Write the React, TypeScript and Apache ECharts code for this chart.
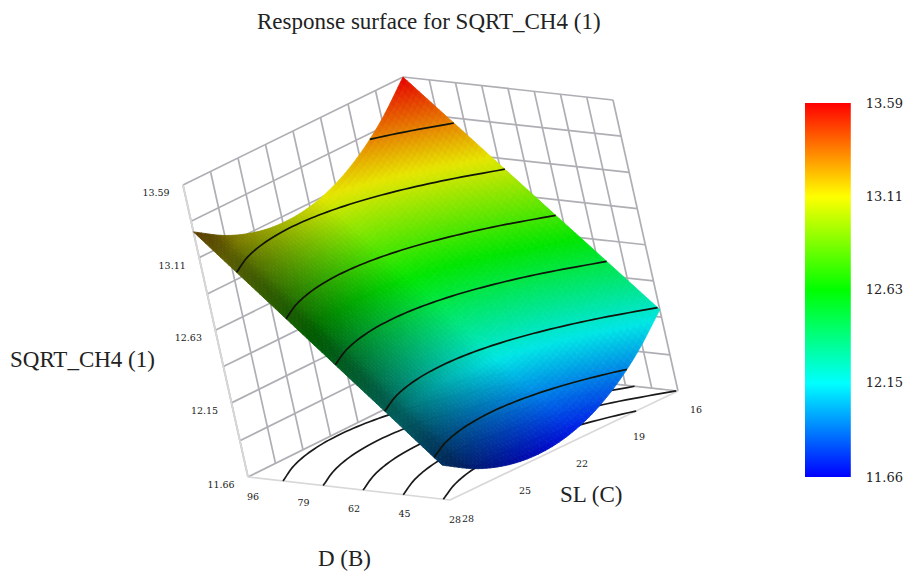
import React, { useEffect, useRef } from "react";
import * as echarts from "echarts";

const dValues = [96, 87.5, 79, 70.5, 62, 53.5, 45, 36.5, 28];
const slValues = [28, 26.5, 25, 23.5, 22, 20.5, 19, 17.5, 16];
const zGrid = [11.66, 11.90, 12.15, 12.39, 12.63, 12.87, 13.11, 13.35, 13.59];
const zTicks = [13.59, 13.11, 12.63, 12.15, 11.66];
const dTicks = [96, 79, 62, 45, 28];
const slTicks = [28, 25, 22, 19, 16];
const contourLevels = [11.936, 12.212, 12.488, 12.763, 13.039, 13.315];
// rows: D from 96 to 28, columns: SL from 28 to 16
const surfaceRows = [
  [13.28, 13.167, 13.098, 13.072, 13.089, 13.149, 13.253, 13.4, 13.59],
  [13.106, 12.993, 12.924, 12.898, 12.915, 12.975, 13.079, 13.226, 13.416],
  [12.933, 12.82, 12.751, 12.725, 12.742, 12.802, 12.906, 13.053, 13.243],
  [12.759, 12.646, 12.577, 12.551, 12.568, 12.628, 12.732, 12.879, 13.069],
  [12.585, 12.472, 12.403, 12.377, 12.394, 12.454, 12.558, 12.705, 12.895],
  [12.411, 12.298, 12.229, 12.203, 12.22, 12.28, 12.384, 12.531, 12.721],
  [12.238, 12.125, 12.056, 12.03, 12.047, 12.107, 12.211, 12.358, 12.548],
  [12.064, 11.951, 11.882, 11.856, 11.873, 11.933, 12.037, 12.184, 12.374],
  [11.89, 11.777, 11.708, 11.682, 11.699, 11.759, 11.863, 12.01, 12.2],
];
const rampStops: [number, number[]][] = [
  [0, [0, 0, 255]],
  [0.25, [0, 255, 255]],
  [0.5, [0, 255, 0]],
  [0.75, [255, 255, 0]],
  [1, [255, 0, 0]],
];

const Z_MIN = 11.66;
const Z_MAX = 13.59;
const SERIF = "'DejaVu Serif', serif";
const TITLE_FONT = "'Liberation Serif', serif";

// Screen frame of the view box: [u (D), s (SL)] corners on floor and ceiling
const floorCorners = [[[248, 477], [468, 368]], [[450, 500], [678, 391]]];
const topCorners = [[[183, 185], [403, 77]], [[385, 208], [613, 100]]];

function project(d: number, sl: number, z: number): number[] {
  const u = (96 - d) / 68;
  const s = (28 - sl) / 12;
  const t = (z - Z_MIN) / (Z_MAX - Z_MIN);
  const at = (c: number[][][], k: number) =>
    (1 - u) * ((1 - s) * c[0][0][k] + s * c[0][1][k]) + u * ((1 - s) * c[1][0][k] + s * c[1][1][k]);
  return [0, 1].map((k) => (1 - t) * at(floorCorners, k) + t * at(topCorners, k));
}

function rampColor(z: number, b: number): string {
  const p = Math.min(1, Math.max(0, (z - Z_MIN) / (Z_MAX - Z_MIN)));
  let i = 0;
  while (i < rampStops.length - 2 && p > rampStops[i + 1][0]) i++;
  const [p0, c0] = rampStops[i];
  const [p1, c1] = rampStops[i + 1];
  const f = (p - p0) / (p1 - p0);
  const c = c0.map((v, k) => Math.round((v + (c1[k] - v) * f) * b));
  return `rgb(${c[0]},${c[1]},${c[2]})`;
}

// Smooth rendering of the table on a fine mesh
const N = 64;
function cr(a: number, b: number, c: number, d: number, f: number) {
  return b + 0.5 * f * (c - a + f * (2 * a - 5 * b + 4 * c - d + f * (3 * (b - c) + d - a)));
}
function sampleLine(line: number[], x: number) {
  const n = line.length - 1;
  const i = Math.min(n - 1, Math.floor(x * n));
  const f = x * n - i;
  const g = (k: number) =>
    k < 0 ? 2 * line[0] - line[1] : k > n ? 2 * line[n] - line[n - 1] : line[k];
  return cr(g(i - 1), g(i), g(i + 1), g(i + 2), f);
}
const mesh: number[][] = [];
for (let i = 0; i <= N; i++) {
  const row: number[] = [];
  for (let j = 0; j <= N; j++) {
    const col = surfaceRows.map((r) => sampleLine(r, j / N));
    row.push(sampleLine(col, i / N));
  }
  mesh.push(row);
}
const toD = (u: number) => 96 - 68 * u;
const toSL = (s: number) => 28 - 12 * s;

// Contour runs: [D, SL] points along each level
const contourRuns: { level: number; pts: number[][] }[] = [];
contourLevels.forEach((level) => {
  let pts: number[][] = [];
  let prev: number | null = null;
  for (let j = 0; j <= N; j++) {
    let found = -1;
    for (let i = 0; i < N; i++) {
      if (mesh[i][j] >= level && mesh[i + 1][j] <= level) {
        found = i + (mesh[i][j] - level) / (mesh[i][j] - mesh[i + 1][j]);
        break;
      }
    }
    if (found >= 0) {
      if (prev === null && j > 0) {
        const r = mesh[0][j] >= level && mesh[N][j] <= level && mesh[0][j - 1] < level ? 0 : N;
        const a = mesh[r][j - 1];
        const b = mesh[r][j];
        pts.push([toD(r / N), toSL((j - 1 + (level - a) / (b - a)) / N)]);
      }
      pts.push([toD(found / N), toSL(j / N)]);
      prev = found;
    } else if (prev !== null) {
      const r = mesh[0][j] < level ? 0 : N;
      const a = mesh[r][j - 1];
      const b = mesh[r][j];
      pts.push([toD(r / N), toSL((j - 1 + (level - a) / (b - a)) / N)]);
      contourRuns.push({ level, pts });
      pts = [];
      prev = null;
    }
  }
  if (pts.length > 1) contourRuns.push({ level, pts });
});

const cellItems: number[][] = [];
for (let i = 0; i < N; i++) for (let j = 0; j < N; j++) cellItems.push([i, j]);

const wallLines: number[][] = [];
dValues.forEach((d) => wallLines.push([d, 16, Z_MIN, d, 16, Z_MAX, 0]));
slValues.forEach((sl) => wallLines.push([96, sl, Z_MIN, 96, sl, Z_MAX, 0]));
zGrid.forEach((z) => {
  wallLines.push([96, 28, z, 96, 16, z, 0]);
  wallLines.push([96, 16, z, 28, 16, z, 0]);
});
const floorEdges = [
  [96, 28, Z_MIN, 28, 28, Z_MIN, 1],
  [28, 28, Z_MIN, 28, 16, Z_MIN, 1],
  [96, 28, Z_MIN, 96, 28, Z_MAX, 1],
];

const lineSeries = (data: number[][]) => ({
  type: "custom",
  coordinateSystem: "cartesian2d",
  xAxisIndex: 0,
  yAxisIndex: 0,
  silent: true,
  clip: false,
  data,
  renderItem: (_: any, api: any) => {
    const a = api.coord(project(api.value(0), api.value(1), api.value(2)));
    const b = api.coord(project(api.value(3), api.value(4), api.value(5)));
    return {
      type: "line",
      shape: { x1: a[0], y1: a[1], x2: b[0], y2: b[1] },
      style: { stroke: api.value(6) ? "#d8d8d8" : "#aeaeb4", lineWidth: 1.7 },
    };
  },
});

const contourSeries = (onFloor: boolean, color: string) => ({
  type: "custom",
  coordinateSystem: "cartesian2d",
  xAxisIndex: 0,
  yAxisIndex: 0,
  silent: true,
  clip: false,
  data: contourRuns.map((_, i) => [i]),
  renderItem: (_: any, api: any) => {
    const run = contourRuns[api.value(0)];
    return {
      type: "polyline",
      shape: {
        points: run.pts.map((p) => api.coord(project(p[0], p[1], onFloor ? Z_MIN : run.level))),
      },
      style: { stroke: color, fill: "none", lineWidth: 1.7, lineJoin: "round" },
    };
  },
});

const tickLabelSeries = (
  values: number[],
  toPoint: (v: number) => number[],
  dx: number,
  dy: number,
  digits: number
) => ({
  type: "custom",
  coordinateSystem: "cartesian2d",
  xAxisIndex: 0,
  yAxisIndex: 0,
  silent: true,
  clip: false,
  data: values.map((v) => [v]),
  renderItem: (_: any, api: any) => {
    const v = api.value(0);
    const p = api.coord(toPoint(v));
    return {
      type: "text",
      x: p[0] + dx,
      y: p[1] + dy,
      style: {
        text: v.toFixed(digits),
        fontFamily: SERIF,
        fontSize: 9.5,
        fill: "#222",
        align: "center",
        verticalAlign: "middle",
      },
    };
  },
});

const option = {
  animation: false,
  backgroundColor: "#fff",
  title: {
    text: "Response surface for SQRT_CH4 (1)",
    left: 257,
    top: 10,
    padding: 0,
    textStyle: { fontFamily: TITLE_FONT, fontSize: 23, fontWeight: "normal", color: "#222" },
  },
  graphic: [
    { type: "text", x: 10, y: 348, style: { text: "SQRT_CH4 (1)", fontFamily: TITLE_FONT, fontSize: 23, fill: "#222" } },
    { type: "text", x: 560, y: 483, style: { text: "SL (C)", fontFamily: TITLE_FONT, fontSize: 23, fill: "#222" } },
    { type: "text", x: 318, y: 547, style: { text: "D (B)", fontFamily: TITLE_FONT, fontSize: 23, fill: "#222" } },
  ],
  grid: [
    { left: 0, top: 0, width: 906, height: 572 },
    { left: 805, top: 103, width: 47, height: 374 },
  ],
  xAxis: [
    { type: "value", min: 0, max: 906, show: false, gridIndex: 0 },
    { type: "value", min: 0, max: 1, show: false, gridIndex: 1 },
  ],
  yAxis: [
    { type: "value", min: 0, max: 572, inverse: true, show: false, gridIndex: 0 },
    {
      type: "value",
      min: Z_MIN,
      max: Z_MAX,
      gridIndex: 1,
      position: "right",
      axisLine: { show: false },
      axisTick: { show: false },
      splitLine: { show: false },
      axisLabel: {
        customValues: zTicks,
        formatter: (v: number) => v.toFixed(2),
        fontFamily: SERIF,
        fontSize: 13,
        color: "#222",
        margin: 15,
      },
    },
  ],
  series: [
    lineSeries(wallLines),
    lineSeries(floorEdges),
    contourSeries(true, "#1a1a1a"),
    {
      type: "custom",
      coordinateSystem: "cartesian2d",
      xAxisIndex: 0,
      yAxisIndex: 0,
      silent: true,
      clip: false,
      data: cellItems,
      renderItem: (_: any, api: any) => {
        const i = api.value(0);
        const j = api.value(1);
        const corner = (a: number, b: number) =>
          api.coord(project(toD(a / N), toSL(b / N), mesh[a][b]));
        const avg = (mesh[i][j] + mesh[i + 1][j] + mesh[i][j + 1] + mesh[i + 1][j + 1]) / 4;
        const slope = ((mesh[i][j + 1] + mesh[i + 1][j + 1] - mesh[i][j] - mesh[i + 1][j]) / 2) * N;
        const b = Math.min(0.9, Math.max(0.32, 0.72 + slope * 0.38));
        const fill = rampColor(avg, b);
        return {
          type: "polygon",
          shape: { points: [corner(i, j), corner(i, j + 1), corner(i + 1, j + 1), corner(i + 1, j)] },
          style: { fill, stroke: fill, lineWidth: 0.8 },
        };
      },
    },
    contourSeries(false, "#10140a"),
    tickLabelSeries(zTicks, (v) => project(96, 28, v), -27, 7.5, 2),
    tickLabelSeries(dTicks, (v) => project(v, 28, Z_MIN), 5, 19.5, 0),
    tickLabelSeries(slTicks, (v) => project(28, v, Z_MIN), 18, 18, 0),
    {
      type: "custom",
      coordinateSystem: "cartesian2d",
      xAxisIndex: 1,
      yAxisIndex: 1,
      silent: true,
      clip: false,
      data: [[0, Z_MIN, 1, Z_MAX]],
      renderItem: (_: any, api: any) => {
        const a = api.coord([api.value(0), api.value(3)]);
        const b = api.coord([api.value(2), api.value(1)]);
        return {
          type: "rect",
          shape: { x: a[0], y: a[1], width: b[0] - a[0], height: b[1] - a[1] },
          style: {
            fill: new echarts.graphic.LinearGradient(
              0,
              1,
              0,
              0,
              rampStops.map(([offset, c]) => ({ offset, color: `rgb(${c[0]},${c[1]},${c[2]})` }))
            ),
          },
        };
      },
    },
  ],
};

export default function App() {
  const ref = useRef<HTMLDivElement>(null);
  useEffect(() => {
    document.body.style.margin = "0";
    const chart = echarts.init(ref.current!, null, { renderer: "svg" });
    chart.setOption(option as any);
    return () => chart.dispose();
  }, []);
  return <div ref={ref} style={{ width: 906, height: 572 }} />;
}
